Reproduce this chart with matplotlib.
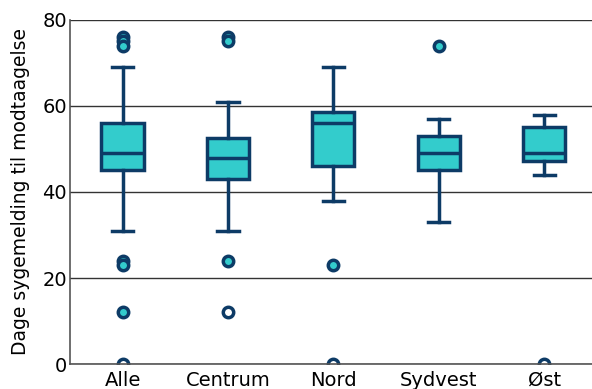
import matplotlib
matplotlib.use("Agg")
import matplotlib.pyplot as plt

# box statistics
categories = ["Alle", "Centrum", "Nord", "Sydvest", "Øst"]
q1 = [45, 43, 46, 45, 47.3]
median = [49, 48, 56, 49, 49]
q3 = [56, 52.5, 58.5, 53, 55]
whislo = [31, 31, 38, 33, 44]
whishi = [69, 61, 69, 57, 58]

# outliers per group and whether they are drawn filled
fliers = [[76, 75, 74, 24, 23, 12, 0], [76, 75, 24, 12], [23, 0], [74], [0]]
filled = [[1, 1, 1, 1, 1, 1, 0], [1, 1, 1, 0], [1, 0], [1], [0]]

navy = "#0d3b66"
teal = "#33cccc"

stats = []
for i, name in enumerate(categories):
    stats.append({"label": name, "q1": q1[i], "med": median[i], "q3": q3[i],
                  "whislo": whislo[i], "whishi": whishi[i], "fliers": []})

fig = plt.figure(figsize=(5.92, 3.89), dpi=100)
ax = fig.add_axes([0.118, 0.064, 0.885, 0.885])

lw = 2.5
ax.bxp(stats, positions=range(1, 6), widths=0.4, patch_artist=True, showfliers=False,
       boxprops=dict(facecolor=teal, edgecolor=navy, linewidth=lw),
       medianprops=dict(color=navy, linewidth=lw),
       whiskerprops=dict(color=navy, linewidth=lw),
       capprops=dict(color=navy, linewidth=lw))

for i, (vals, fl) in enumerate(zip(fliers, filled)):
    for v, f in zip(vals, fl):
        ax.plot(i + 1, v, "o", markersize=7.5, markeredgewidth=lw, markeredgecolor=navy,
                markerfacecolor=teal if f else "white", zorder=3)

ax.set_xlim(0.5, 5.47)
ax.set_ylim(0, 80)
ax.set_yticks([0, 20, 40, 60, 80])
ax.yaxis.grid(True, color="#333333", linewidth=1)
ax.set_axisbelow(True)
ax.tick_params(length=0, labelsize=14)
ax.tick_params(axis="y", pad=2)
ax.tick_params(axis="x", pad=5)
for s in ["top", "right"]:
    ax.spines[s].set_visible(False)
for s in ["left", "bottom"]:
    ax.spines[s].set_color("#555555")
    ax.spines[s].set_linewidth(1.2)
    ax.spines[s].set_zorder(4)
ax.set_ylabel("Dage sygemelding til modtaagelse", fontsize=13.5, labelpad=9)

fig.savefig("out.png", dpi=100)
